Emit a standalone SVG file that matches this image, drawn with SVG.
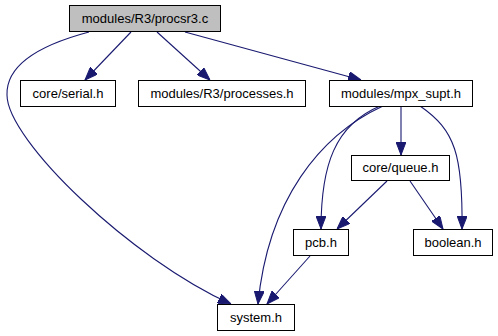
<svg xmlns="http://www.w3.org/2000/svg" width="498" height="336" viewBox="0 0 498 336">
  <style>
    .node rect { fill: #ffffff; stroke: #000000; stroke-width: 1; }
    .node.root rect { fill: #bfbfbf; }
    .node text { font-family: "Liberation Sans", Arial, sans-serif; font-size: 13px; fill: #000000; text-anchor: middle; }
    .edge { fill: none; stroke: #191970; stroke-width: 1.1; marker-end: url(#arrow); }
  </style>
  <defs>
    <marker id="arrow" viewBox="0 0 13 10" refX="13" refY="5" markerWidth="13" markerHeight="10" markerUnits="userSpaceOnUse" orient="auto">
      <path d="M0,0 L13,5 L0,10 z" fill="#191970" stroke="#191970" stroke-width="1"/>
    </marker>
  </defs>

  <!-- include dependency edges -->
  <g id="edges">
    <path class="edge" d="M131,32 L85,80"/>
    <path class="edge" d="M157,32 L210,80"/>
    <path class="edge" d="M185,32 L361,80"/>
    <path class="edge" d="M89,32 C40,45 6,65 7,95 C7,140 131,259 231,304"/>
    <path class="edge" d="M383,106 C320,135 268,200 258,304"/>
    <path class="edge" d="M380,106 C335,125 321,165 321,229"/>
    <path class="edge" d="M401,106 L401,155"/>
    <path class="edge" d="M420,106 C455,130 463,155 462,229"/>
    <path class="edge" d="M387,181 L337,229"/>
    <path class="edge" d="M410,181 L443,229"/>
    <path class="edge" d="M310,256 L267,304"/>
  </g>

  <g id="node-procsr3" class="node root">
    <rect x="69.5" y="5.5" width="151" height="26"/>
    <text x="145" y="22.5">modules/R3/procsr3.c</text>
  </g>
  <g id="node-serial" class="node">
    <rect x="20.5" y="80.5" width="95" height="26"/>
    <text x="68" y="97.5">core/serial.h</text>
  </g>
  <g id="node-processes" class="node">
    <rect x="138.5" y="80.5" width="167" height="26"/>
    <text x="222" y="97.5">modules/R3/processes.h</text>
  </g>
  <g id="node-mpx_supt" class="node">
    <rect x="329.5" y="80.5" width="143" height="26"/>
    <text x="401" y="97.5">modules/mpx_supt.h</text>
  </g>
  <g id="node-queue" class="node">
    <rect x="351.5" y="155.5" width="98" height="25"/>
    <text x="400.5" y="172">core/queue.h</text>
  </g>
  <g id="node-pcb" class="node">
    <rect x="293.5" y="229.5" width="55" height="26"/>
    <text x="321" y="246.5">pcb.h</text>
  </g>
  <g id="node-boolean" class="node">
    <rect x="413.5" y="229.5" width="79" height="26"/>
    <text x="453" y="246.5">boolean.h</text>
  </g>
  <g id="node-system" class="node">
    <rect x="217.5" y="304.5" width="77" height="26"/>
    <text x="256" y="321.5">system.h</text>
  </g>
</svg>
